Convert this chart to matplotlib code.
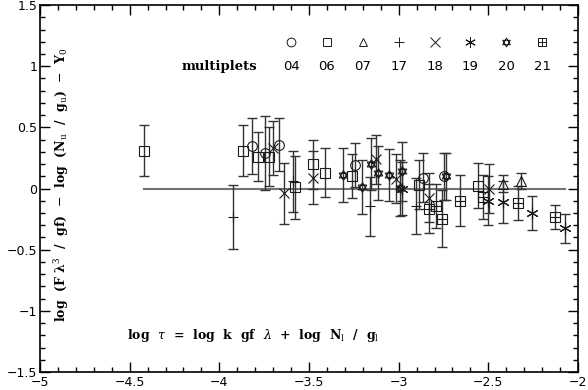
import numpy as np
import matplotlib
matplotlib.use('Agg')
import matplotlib.pyplot as plt
from matplotlib.path import Path
from matplotlib.ticker import MultipleLocator

plt.rcParams['mathtext.fontset'] = 'dejavuserif'

# multiplet data: log tau, residual, error
x04 = [-3.82, -3.743, -3.67, -3.243, -2.866, -2.745]
y04 = [0.35, 0.29, 0.36, 0.195, 0.087, 0.10]
e04 = [0.23, 0.30, 0.22, 0.18, 0.20, 0.19]

x06 = [-4.42, -3.87, -3.786, -3.725, -3.58, -3.476, -3.41, -3.26, -2.885, -2.555]
y06 = [0.31, 0.31, 0.26, 0.26, 0.01, 0.20, 0.13, 0.10, 0.03, 0.025]
e06 = [0.21, 0.21, 0.20, 0.24, 0.26, 0.20, 0.20, 0.18, 0.20, 0.18]

x07 = [-2.42, -2.317]
y07 = [0.04, 0.065]
e07 = [0.07, 0.065]

x17 = [-3.925, -3.59, -3.16, -2.905]
y17 = [-0.234, 0.06, -0.145, -0.14]
e17 = [0.26, 0.25, 0.24, 0.23]

x18 = [-3.70, -3.64, -3.48, -3.126, -3.015, -2.83, -2.494]
y18 = [0.33, -0.04, 0.09, 0.24, 0.08, -0.076, 0.0]
e18 = [0.22, 0.25, 0.22, 0.20, 0.20, 0.20, 0.20]

x19 = [-2.98, -2.5, -2.416, -2.258, -2.072]
y19 = [0.0, -0.10, -0.11, -0.20, -0.326]
e19 = [0.22, 0.20, 0.17, 0.14, 0.12]

x20 = [-3.31, -3.206, -3.155, -3.117, -3.053, -2.98, -2.99, -2.735]
y20 = [0.11, 0.01, 0.20, 0.13, 0.11, 0.14, 0.005, 0.10]
e20 = [0.22, 0.22, 0.21, 0.22, 0.21, 0.24, 0.23, 0.19]

x21 = [-2.83, -2.793, -2.76, -2.66, -2.527, -2.332, -2.128]
y21 = [-0.165, -0.145, -0.245, -0.10, -0.07, -0.117, -0.234]
e21 = [0.20, 0.18, 0.23, 0.21, 0.18, 0.14, 0.10]

labels = ['04', '06', '07', '17', '18', '19', '20', '21']
legend_x = [-3.6, -3.4, -3.2, -3.0, -2.8, -2.6, -2.4, -2.2]

# custom markers
star_david = Path(
    [(0, 1), (-0.866, -0.5), (0.866, -0.5), (0, 1),
     (0, -1), (-0.866, 0.5), (0.866, 0.5), (0, -1)],
    [Path.MOVETO, Path.LINETO, Path.LINETO, Path.CLOSEPOLY,
     Path.MOVETO, Path.LINETO, Path.LINETO, Path.CLOSEPOLY])
box_plus = Path(
    [(-1, -1), (1, -1), (1, 1), (-1, 1), (-1, -1),
     (-1, 0), (1, 0), (0, -1), (0, 1)],
    [Path.MOVETO, Path.LINETO, Path.LINETO, Path.LINETO, Path.CLOSEPOLY,
     Path.MOVETO, Path.LINETO, Path.MOVETO, Path.LINETO])

markers = ['o', 's', '^', '+', 'x', (6, 2, 0), star_david, box_plus]
sizes = [7, 6.5, 6.5, 7.5, 7.5, 8.5, 7, 6.5]
series = [(x04, y04, e04), (x06, y06, e06), (x07, y07, e07), (x17, y17, e17),
          (x18, y18, e18), (x19, y19, e19), (x20, y20, e20), (x21, y21, e21)]

fig = plt.figure(figsize=(5.88, 3.9), dpi=100)
ax = fig.add_axes([0.068, 0.046, 0.915, 0.941])

ax.plot([-4.42, -2.07], [0, 0], color='0.45', lw=1.5, zorder=1)

for (xs, ys, es), m, ms in zip(series, markers, sizes):
    ax.errorbar(xs, ys, yerr=es, fmt='none', ecolor='0.2', elinewidth=1,
                capsize=3.5, capthick=1, zorder=2)
    ax.plot(xs, ys, ls='none', marker=m, ms=ms, mfc='none', mec='0.1',
            mew=0.8, zorder=3)

# legend row
for lx, lab, m, ms in zip(legend_x, labels, markers, sizes):
    ax.plot([lx], [1.2], ls='none', marker=m, ms=ms * 0.9, mfc='none', mec='0.1', mew=0.7)
    ax.text(lx, 1.0, lab, ha='center', va='center', fontsize=9.5)
ax.text(-4.0, 1.0, 'multiplets', ha='center', va='center', fontsize=9.5,
        family='DejaVu Serif', weight='bold')

ax.text(-4.877, 0.03,
        r'log  (F $\mathbf{\lambda}^{3}$  /  gf)  $-$  log  (N$_{\rm u}$  /  g$_{\rm u}$)  $-$  Y$_{0}$',
        rotation=90, ha='center', va='center', fontsize=9,
        family='DejaVu Serif', weight='bold')
ax.text(-3.81, -1.2,
        r'log  $\tau$  =  log  k  gf  $\lambda$  +  log  N$_{\rm l}$  /  g$_{\rm l}$',
        ha='center', va='center', fontsize=9, family='DejaVu Serif', weight='bold')

ax.set_xlim(-5, -2)
ax.set_ylim(-1.5, 1.5)
ax.xaxis.set_major_locator(MultipleLocator(0.5))
ax.xaxis.set_minor_locator(MultipleLocator(0.1))
ax.yaxis.set_major_locator(MultipleLocator(0.5))
ax.yaxis.set_minor_locator(MultipleLocator(0.1))
ax.tick_params(which='both', direction='in', top=True, right=True,
               labelsize=9, width=1)
ax.tick_params(which='major', length=7)
ax.tick_params(which='minor', length=3.5)
fmt = plt.FuncFormatter(lambda v, p: ('%g' % v).replace('-', '\u2212'))
ax.xaxis.set_major_formatter(fmt)
ax.yaxis.set_major_formatter(fmt)
ax.tick_params(axis='x', pad=3)
ax.tick_params(axis='y', pad=2)
for s in ax.spines.values():
    s.set_linewidth(1.2)

plt.savefig('out.png', dpi=100)
plt.close()
